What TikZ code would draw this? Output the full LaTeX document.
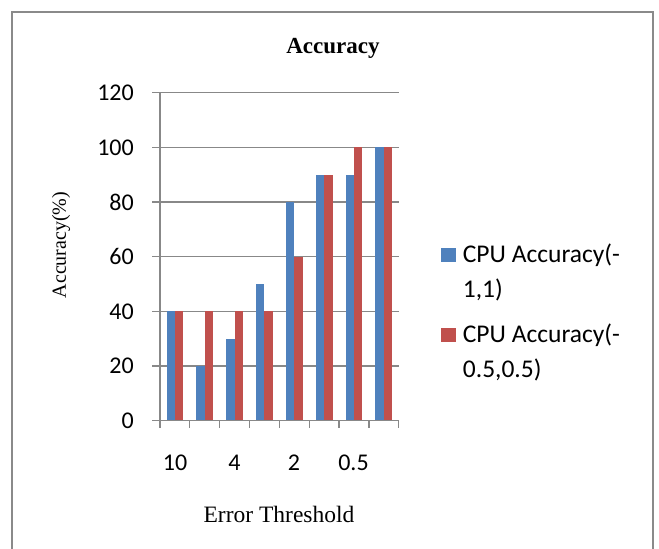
\documentclass[tikz,border=0pt]{standalone}
\usepackage{fontspec}
\setmainfont{Liberation Serif}
\newfontfamily\calib{Carlito}
\definecolor{serblue}{HTML}{4F81BD}
\definecolor{serred}{HTML}{C0504D}
\definecolor{gridgray}{HTML}{888888}
\definecolor{framegray}{HTML}{8A8A8A}
\tikzset{
  gridline/.style={draw=gridgray, line width=1.3pt},
  bluebar/.style={fill=serblue, draw=none},
  redbar/.style={fill=serred, draw=none},
  ticklbl/.style={font=\calib\fontsize{24}{28}\selectfont, inner sep=0pt},
  legtxt/.style={font=\calib\fontsize{25.5}{30}\selectfont, inner sep=0pt, anchor=base west},
}
\begin{document}
\begin{tikzpicture}[x=1pt, y=-1pt]
  \useasboundingbox (0,0) rectangle (659,549);
  % outer frame of the chart (open at the bottom)
  \draw[framegray, line width=2pt] (12,560) -- (12,12) -- (653,12) -- (653,560);

  % title
  \node[font=\bfseries\fontsize{23}{27}\selectfont, inner sep=0pt] (title) at (333,48) {Accuracy};

  % horizontal gridlines with their tick labels
  \foreach \v/\nm in {20/a,40/b,60/c,80/d,100/e,120/f}{
    \draw[gridline] (152,{420.7-\v*2.7333}) -- (398.7,{420.7-\v*2.7333});
    \node[ticklbl, anchor=east] (yl\nm) at (134,{420.7-\v*2.7333}) {\v};
  }
  \node[ticklbl, anchor=east] (yl0) at (134,420.7) {0};

  % bars: blue and red series for each of eight categories
  \def\cw{29.84}
  \def\bw{8.4}
  \foreach \i/\b/\r in {0/40/40,1/20/40,2/30/40,3/50/40,4/80/60,5/90/90,6/90/100,7/100/100}{
    \pgfmathsetmacro{\mid}{160+\cw*\i+\cw/2}
    \fill[bluebar] ({\mid-\bw},420.7) rectangle ({\mid},{420.7-\b*2.7333});
    \fill[redbar] ({\mid},420.7) rectangle ({\mid+\bw},{420.7-\r*2.7333});
  }

  % axes and category ticks
  \draw[gridline] (152,420.7) -- (160,420.7);
  \draw[gridline] (160,92.7) -- (160,420.7) -- (398.7,420.7);
  \foreach \i in {0,...,8}{
    \draw[gridline] ({160+29.84*\i},420.7) -- ({160+29.84*\i},428.3);
  }

  % category labels
  \node[ticklbl] (x10) at (175,463) {10};
  \node[ticklbl] (x4) at (234.5,463) {4};
  \node[ticklbl] (x2) at (294,463) {2};
  \node[ticklbl] (x05) at (353.5,463) {0.5};

  % axis titles
  \node[font=\fontsize{23.5}{27}\selectfont, inner sep=0pt] (xtitle) at (279,514) {Error Threshold};
  \node[font=\fontsize{20}{24}\selectfont, inner sep=0pt, rotate=90] (ytitle) at (61,245) {Accuracy(\%)};

  % legend
  \fill[serblue] (440.7,247.7) rectangle (455.7,262.3);
  \node[legtxt] (leg1a) at (462.7,262.7) {CPU Accuracy(-};
  \node[legtxt] (leg1b) at (462.7,297) {1,1)};
  \fill[serred] (440.7,327.7) rectangle (455.7,342.3);
  \node[legtxt] (leg2a) at (462.7,342.7) {CPU Accuracy(-};
  \node[legtxt] (leg2b) at (462.7,377) {0.5,0.5)};
\end{tikzpicture}
\end{document}
